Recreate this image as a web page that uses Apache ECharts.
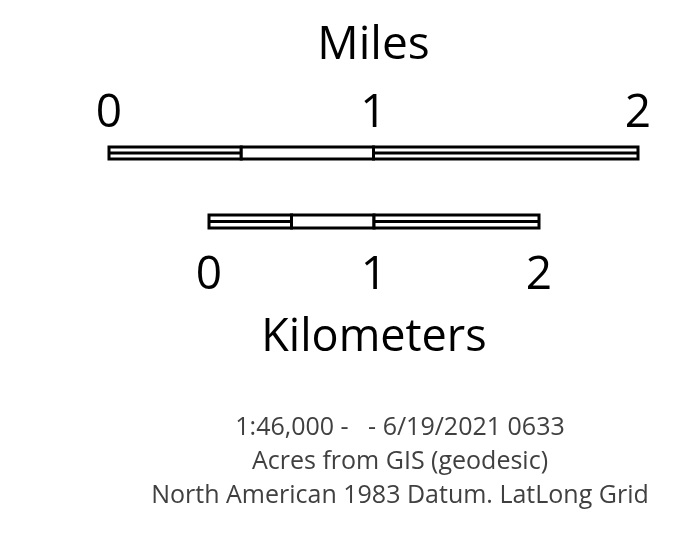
<!DOCTYPE html>
<html><head><meta charset="utf-8">
<script src="https://cdn.jsdelivr.net/npm/echarts@6/dist/echarts.min.js"></script>
<style>html,body{margin:0;padding:0;background:#fff}#c{width:691px;height:553px}</style>
</head><body><div id="c"></div>
<script>
// Scale-bar data
const mileTicks = [0, 1, 2];
const kmTicks = [0, 1, 2];
const mileBreaks = [0, 0.5, 1, 2];      // segment boundaries (miles)
const mileDouble = [true, false, true];  // segment drawn as double line
const kmBreaks = [0, 0.5, 1, 2];        // segment boundaries (km)
const kmDouble = [true, false, true];
const footerLines = [
  '1:46,000 -   - 6/19/2021 0633',
  'Acres from GIS (geodesic)',
  'North American 1983 Datum. LatLong Grid'
];

const FONT = 'Open Sans';

function segData(breaks, dbl) {
  const out = [];
  for (let i = 0; i < breaks.length - 1; i++) out.push([breaks[i], breaks[i + 1], dbl[i] ? 1 : 0]);
  return out;
}

function renderSeg(params, api) {
  const a = api.coord([api.value(0), 1]);
  const b = api.coord([api.value(1), 0]);
  const children = [{
    type: 'rect',
    shape: { x: a[0], y: a[1], width: b[0] - a[0], height: b[1] - a[1] },
    style: { fill: '#fff', stroke: '#000', lineWidth: 3 }
  }];
  if (api.value(2) === 1) {
    const m = (a[1] + b[1]) / 2;
    children.push({
      type: 'line',
      shape: { x1: a[0], y1: m, x2: b[0], y2: m },
      style: { stroke: '#000', lineWidth: 3 }
    });
  }
  return { type: 'group', children };
}

const chart = echarts.init(document.getElementById('c'));
chart.setOption({
  animation: false,
  backgroundColor: '#fff',
  grid: [
    { left: 109, width: 529, top: 147, height: 12 },
    { left: 209, width: 330, top: 215, height: 13 }
  ],
  xAxis: [
    {
      gridIndex: 0, type: 'value', position: 'top', min: 0, max: 2, interval: 1,
      name: 'Miles', nameLocation: 'middle', nameGap: 78,
      nameTextStyle: { fontFamily: FONT, fontSize: 46, color: '#000' },
      axisLine: { show: false }, axisTick: { show: false }, splitLine: { show: false },
      axisLabel: {
        fontFamily: FONT, fontSize: 46, color: '#000', margin: 10,
        formatter: v => mileTicks.indexOf(v) >= 0 ? String(v) : ''
      }
    },
    {
      gridIndex: 1, type: 'value', position: 'bottom', min: 0, max: 2, interval: 1,
      name: 'Kilometers', nameLocation: 'middle', nameGap: 88,
      nameTextStyle: { fontFamily: FONT, fontSize: 45, color: '#000' },
      axisLine: { show: false }, axisTick: { show: false }, splitLine: { show: false },
      axisLabel: {
        fontFamily: FONT, fontSize: 46, color: '#000', margin: 25,
        formatter: v => kmTicks.indexOf(v) >= 0 ? String(v) : ''
      }
    }
  ],
  yAxis: [
    { gridIndex: 0, type: 'value', min: 0, max: 1, show: false },
    { gridIndex: 1, type: 'value', min: 0, max: 1, show: false }
  ],
  series: [
    { type: 'custom', xAxisIndex: 0, yAxisIndex: 0, data: segData(mileBreaks, mileDouble), renderItem: renderSeg, silent: true },
    { type: 'custom', xAxisIndex: 1, yAxisIndex: 1, data: segData(kmBreaks, kmDouble), renderItem: renderSeg, silent: true }
  ],
  graphic: footerLines.map((t, i) => ({
    type: 'text', x: 400, y: 428 + i * 34,
    style: { text: t, fontFamily: FONT, fontSize: 25, fill: '#404040', align: 'center', verticalAlign: 'middle' }
  }))
});
</script></body></html>
